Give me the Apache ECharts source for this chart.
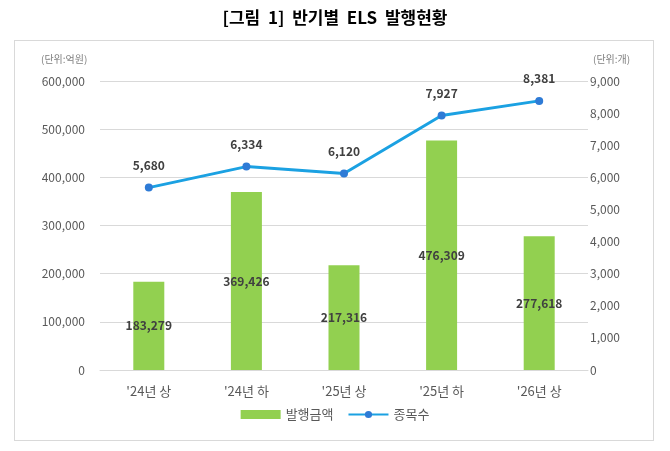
<!DOCTYPE html>
<html><head><meta charset="utf-8">
<script src="https://cdn.jsdelivr.net/npm/echarts@6/dist/echarts.min.js"></script>
<style>html,body{margin:0;padding:0;background:#fff}#c{width:670px;height:451px}
#box{position:absolute;left:14px;top:40px;width:640px;height:401px;border:1px solid #d9d9d9;box-sizing:border-box}</style>
</head><body><div id="box"></div><div id="c" style="position:absolute;left:0;top:0"></div>
<script>
var categories = ["'24년 상", "'24년 하", "'25년 상", "'25년 하", "'26년 상"];
var issueAmount = [183279, 369426, 217316, 476309, 277618];
var issueCount = [5680, 6334, 6120, 7927, 8381];
var fmt = function(v){ return Number(v).toLocaleString('en-US'); };
var chart = echarts.init(document.getElementById('c'));
var font = "'Noto Sans CJK KR', 'Noto Sans', sans-serif";
chart.setOption({
  animation: false,
  textStyle: { fontFamily: font },
  title: [
    { text: '[그림  1]  반기별  ELS  발행현황', left: 'center', top: 4,
      textStyle: { fontSize: 17, fontWeight: 'bold', color: '#000', fontFamily: font } },
    { text: '(단위:억원)', left: 36, top: 49, textStyle: { fontSize: 10, fontWeight: 'normal', color: '#7f7f7f', fontFamily: font } },
    { text: '(단위:개)', left: 588, top: 49, textStyle: { fontSize: 10, fontWeight: 'normal', color: '#7f7f7f', fontFamily: font } }
  ],
  legend: {
    bottom: 25, left: 'center', itemGap: 14, itemWidth: 40, itemHeight: 9,
    textStyle: { fontSize: 13, color: '#595959', fontFamily: font },
    data: [{ name: '발행금액', icon: 'rect' }, { name: '종목수' }]
  },
  grid: { left: 100, right: 82, top: 81, bottom: 81 },
  xAxis: {
    type: 'category', data: categories,
    axisLine: { lineStyle: { color: '#d9d9d9' } },
    axisTick: { show: false },
    axisLabel: { color: '#595959', fontSize: 13, margin: 15 }
  },
  yAxis: [
    { type: 'value', min: 0, max: 600000, interval: 100000,
      axisLine: { show: false }, axisTick: { show: false },
      axisLabel: { color: '#595959', fontSize: 12, margin: 15, formatter: fmt },
      splitLine: { lineStyle: { color: '#d9d9d9' } } },
    { type: 'value', min: 0, max: 9000, interval: 1000,
      axisLine: { show: false }, axisTick: { show: false },
      axisLabel: { color: '#595959', fontSize: 12, margin: 2, formatter: fmt },
      splitLine: { show: false } }
  ],
  series: [
    { name: '발행금액', type: 'bar', data: issueAmount, barWidth: 31,
      itemStyle: { color: '#92D050' },
      label: { show: true, position: 'inside', color: '#404040', fontSize: 12, fontWeight: 'bold', formatter: function(p){ return fmt(p.value); } } },
    { name: '종목수', type: 'line', yAxisIndex: 1, data: issueCount,
      symbol: 'circle', symbolSize: 8,
      lineStyle: { color: '#1BA1E2', width: 3 },
      itemStyle: { color: '#2E7BD6' },
      label: { show: true, position: 'top', distance: 12, color: '#404040', fontSize: 12, fontWeight: 'bold', formatter: function(p){ return fmt(p.value); } } }
  ]
});
</script></body></html>
